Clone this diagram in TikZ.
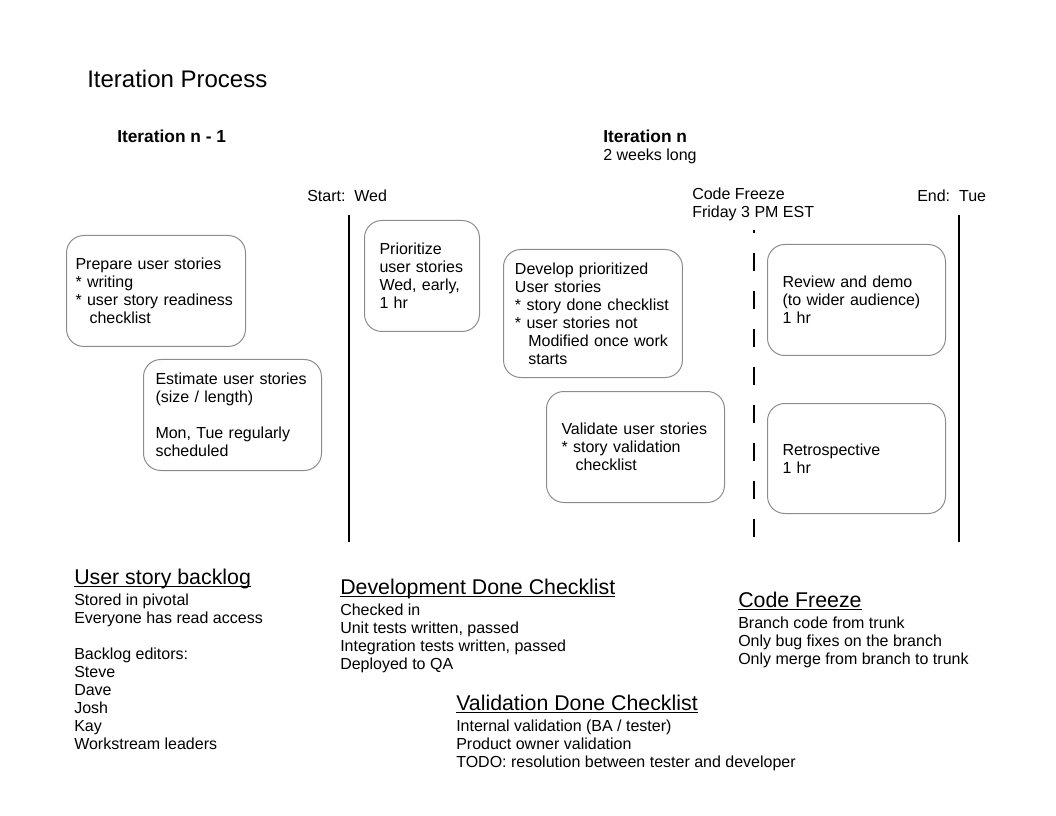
\documentclass[tikz,border=0pt]{standalone}
\usepackage{fontspec}
\setmainfont{Liberation Sans}
\usepackage{tikz}
\usetikzlibrary{positioning}
\definecolor{boxgray}{HTML}{8C8C8C}
\newcommand{\headline}[1]{\underline{\smash{#1}}}

\begin{document}
\begin{tikzpicture}[x=0.75pt, y=-0.75pt, inner sep=0pt,
    every node/.style={font=\fontsize{12}{13.5}\selectfont, align=left},
    card/.style={draw=boxgray, line width=0.75pt, rounded corners=13pt, anchor=north west},
    heading/.style={font=\fontsize{16}{19}\selectfont, anchor=base west},
    list/.style={anchor=north west},
    bold/.style={font=\bfseries\fontsize{13}{15}\selectfont, anchor=west},
    timeline/.style={line width=0.9pt}]
    \useasboundingbox (0,0) rectangle (1056,816);

    % Überschriften
    \node[font=\fontsize{18}{21}\selectfont, anchor=west] (title) at (87,79) {Iteration Process};
    \node[bold] (iterPrev) at (117,136) {Iteration n - 1};
    \node[bold] (iterN) at (603,136) {Iteration n};
    \node[anchor=west] (weeks) at (603,156) {2 weeks long};

    % Zeitlinien
    \coordinate (startTop) at (349,215);
    \coordinate (startBot) at (349,542);
    \coordinate (freezeTop) at (754,230);
    \coordinate (freezeBot) at (754,545);
    \coordinate (endTop) at (959,215);
    \coordinate (endBot) at (959,542);
    \draw[timeline] (startTop) -- (startBot);
    \draw[timeline, dash pattern=on 13.5pt off 15pt, dash phase=11.25pt] (freezeTop) -- (freezeBot);
    \draw[timeline] (endTop) -- (endBot);
    \node[anchor=west] (startLbl) at (307,196) {Start:\ \ Wed};
    \node[anchor=west] (freezeLbl) at (692,204) {Code Freeze\\Friday 3 PM EST};
    \node[anchor=west] (endLbl) at (917,196) {End:\ \ Tue};

    % Kästen
    \node[card, inner xsep=6.75pt, text width=120.75pt, minimum height=83.25pt] (prep) at (66,235)
        {Prepare user stories\\{*} writing\\{*} user story readiness\\\hspace*{10.5pt}checklist};
    \node[card, inner xsep=9pt, text width=115.5pt, minimum height=83.25pt] (estimate) at (143,359)
        {Estimate user stories\\(size / length)\\[13.5pt]Mon, Tue regularly\\scheduled};
    \node[card, inner xsep=11.25pt, text width=63.75pt, minimum height=83.25pt] (prio) at (364,220)
        {Prioritize\\user stories\\Wed, early,\\1 hr};
    \node[card, inner xsep=8.6pt, text width=117pt, minimum height=96pt] (develop) at (503,249)
        {Develop prioritized\\User stories\\{*} story done checklist\\{*} user stories not\\\hspace*{10pt}Modified once work\\\hspace*{10pt}starts};
    \node[card, inner xsep=11.25pt, text width=111pt, minimum height=83.25pt] (validate) at (546,391)
        {Validate user stories\\{*} story validation\\\hspace*{10.5pt}checklist};
    \node[card, inner xsep=11.25pt, text width=111pt, minimum height=83.25pt] (review) at (767,244)
        {Review and demo\\(to wider audience)\\1 hr};
    \node[card, inner xsep=11.25pt, text width=111pt, minimum height=82.5pt] (retro) at (767,403)
        {Retrospective\\1 hr};

    % Checklisten
    \node[heading] (backlogHead) at (74,584) {\headline{User story backlog}};
    \node[below=5.3pt of backlogHead.south west, list] (backlogList)
        {Stored in pivotal\\Everyone has read access\\[13.5pt]Backlog editors:\\Steve\\Dave\\Josh\\Kay\\Workstream leaders};
    \node[heading] (devHead) at (340,594) {\headline{Development Done Checklist}};
    \node[below=5.3pt of devHead.south west, list] (devList)
        {Checked in\\Unit tests written, passed\\Integration tests written, passed\\Deployed to QA};
    \node[heading] (freezeHead) at (738,607) {\headline{Code Freeze}};
    \node[below=5.3pt of freezeHead.south west, list] (freezeList)
        {Branch code from trunk\\Only bug fixes on the branch\\Only merge from branch to trunk};
    \node[heading] (valHead) at (456,710) {\headline{Validation Done Checklist}};
    \node[below=5.3pt of valHead.south west, list] (valList)
        {Internal validation (BA / tester)\\Product owner validation\\TODO: resolution between tester and developer};
\end{tikzpicture}
\end{document}
